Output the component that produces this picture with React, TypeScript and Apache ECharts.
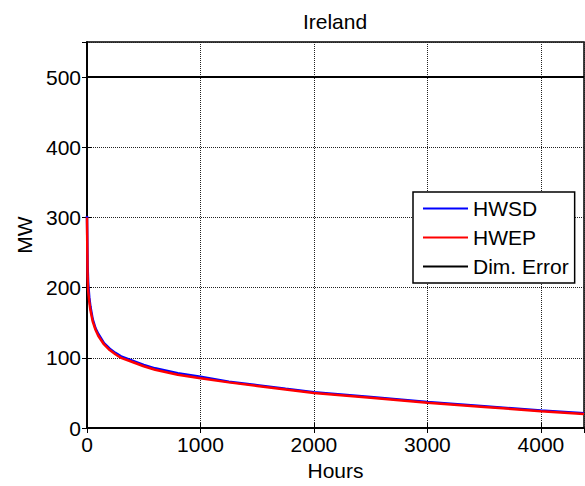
import React, { useEffect, useRef } from "react";
import * as echarts from "echarts";

// Load duration curves for Ireland (MW, sorted descending over hours)
const hours = [0, 5, 10, 20, 30, 50, 75, 100, 150, 200, 250, 300, 400, 500, 600, 800, 1000, 1250, 1500, 1750, 2000, 2500, 3000, 3500, 4000, 4380];
const hwsd = [302, 232, 207, 186, 173, 155, 142, 134, 121, 113, 107, 102, 96, 90, 85, 78, 73, 66, 61, 56, 51, 44, 37, 31, 25, 21];
const hwep = [300, 216, 196, 180, 168, 152, 140, 131, 119, 111, 105, 100, 94, 88, 83, 76, 71, 65, 60, 55, 50, 43, 36, 30, 24, 20];
const dimErrorHours = [0, 4380];
const dimErrorValues = [500, 500];

const xTicks = { min: 0, max: 4380, interval: 1000 };
const yTicks = { min: 0, max: 550, interval: 100 };

const FONT = "'Liberation Sans', Arial, sans-serif";
const FS = 21;

const pairs = (xs: number[], ys: number[]) => xs.map((x, i) => [x, ys[i]]);
const plain = (v: number) => String(v);

export default function App() {
  const ref = useRef<HTMLDivElement>(null);

  useEffect(() => {
    if (!ref.current) return;
    const chart = echarts.init(ref.current, undefined, { renderer: "svg" });

    const gridLine = { show: true, lineStyle: { color: "#222", type: "dotted" as const, width: 1 } };
    const tick = { show: true, inside: true, length: 5, lineStyle: { color: "#000" } };
    const axisLine = { show: true, lineStyle: { color: "#000", width: 1.5 } };

    chart.setOption({
      animation: false,
      backgroundColor: "#fff",
      textStyle: { fontFamily: FONT },
      grid: {
        left: 87,
        right: 1,
        top: 42,
        bottom: 57,
        show: true,
        borderColor: "#000",
        borderWidth: 1.5,
        backgroundColor: "#fff",
      },
      graphic: [
        {
          type: "text",
          x: 335,
          y: 21,
          style: {
            text: "Ireland",
            fontSize: FS,
            fontFamily: FONT,
            fill: "#000",
            textAlign: "center",
            textVerticalAlign: "middle",
          },
        },
      ],
      legend: {
        orient: "vertical",
        left: 413,
        top: 192,
        padding: [6, 6, 6, 10],
        itemGap: 8,
        itemWidth: 45,
        itemHeight: 2,
        icon: "rect",
        backgroundColor: "#fff",
        borderColor: "#000",
        borderWidth: 1.5,
        borderRadius: 0,
        textStyle: { fontSize: FS, color: "#000", fontFamily: FONT },
        data: ["HWSD", "HWEP", "Dim. Error"],
      },
      xAxis: [
        {
          type: "value",
          ...xTicks,
          name: "Hours",
          nameLocation: "middle",
          nameGap: 32,
          nameTextStyle: { fontSize: FS, color: "#000", fontFamily: FONT },
          axisLine,
          axisTick: tick,
          axisLabel: { fontSize: FS, color: "#000", margin: 6, showMaxLabel: false, fontFamily: FONT, formatter: plain },
          splitLine: gridLine,
        },
        {
          type: "value",
          position: "top",
          ...xTicks,
          axisLine,
          axisTick: tick,
          axisLabel: { show: false },
          splitLine: { show: false },
        },
      ],
      yAxis: [
        {
          type: "value",
          ...yTicks,
          name: "MW",
          nameLocation: "middle",
          nameGap: 52,
          nameTextStyle: { fontSize: FS, color: "#000", fontFamily: FONT },
          axisLine,
          axisTick: tick,
          axisLabel: { fontSize: FS, color: "#000", margin: 6, showMaxLabel: false, fontFamily: FONT, formatter: plain },
          splitLine: gridLine,
        },
        {
          type: "value",
          position: "right",
          ...yTicks,
          axisLine,
          axisTick: tick,
          axisLabel: { show: false },
          splitLine: { show: false },
        },
      ],
      series: [
        {
          name: "HWSD",
          type: "line",
          data: pairs(hours, hwsd),
          showSymbol: false,
          color: "#0000ff",
          lineStyle: { color: "#0000ff", width: 2.5 },
          z: 3,
        },
        {
          name: "HWEP",
          type: "line",
          data: pairs(hours, hwep),
          showSymbol: false,
          color: "#ff0000",
          lineStyle: { color: "#ff0000", width: 2.5 },
          z: 4,
        },
        {
          name: "Dim. Error",
          type: "line",
          data: pairs(dimErrorHours, dimErrorValues),
          showSymbol: false,
          color: "#000",
          lineStyle: { color: "#000", width: 2 },
          z: 5,
        },
      ],
    });

    return () => chart.dispose();
  }, []);

  return <div ref={ref} style={{ width: 585, height: 486, position: "absolute", left: 0, top: 0 }} />;
}
